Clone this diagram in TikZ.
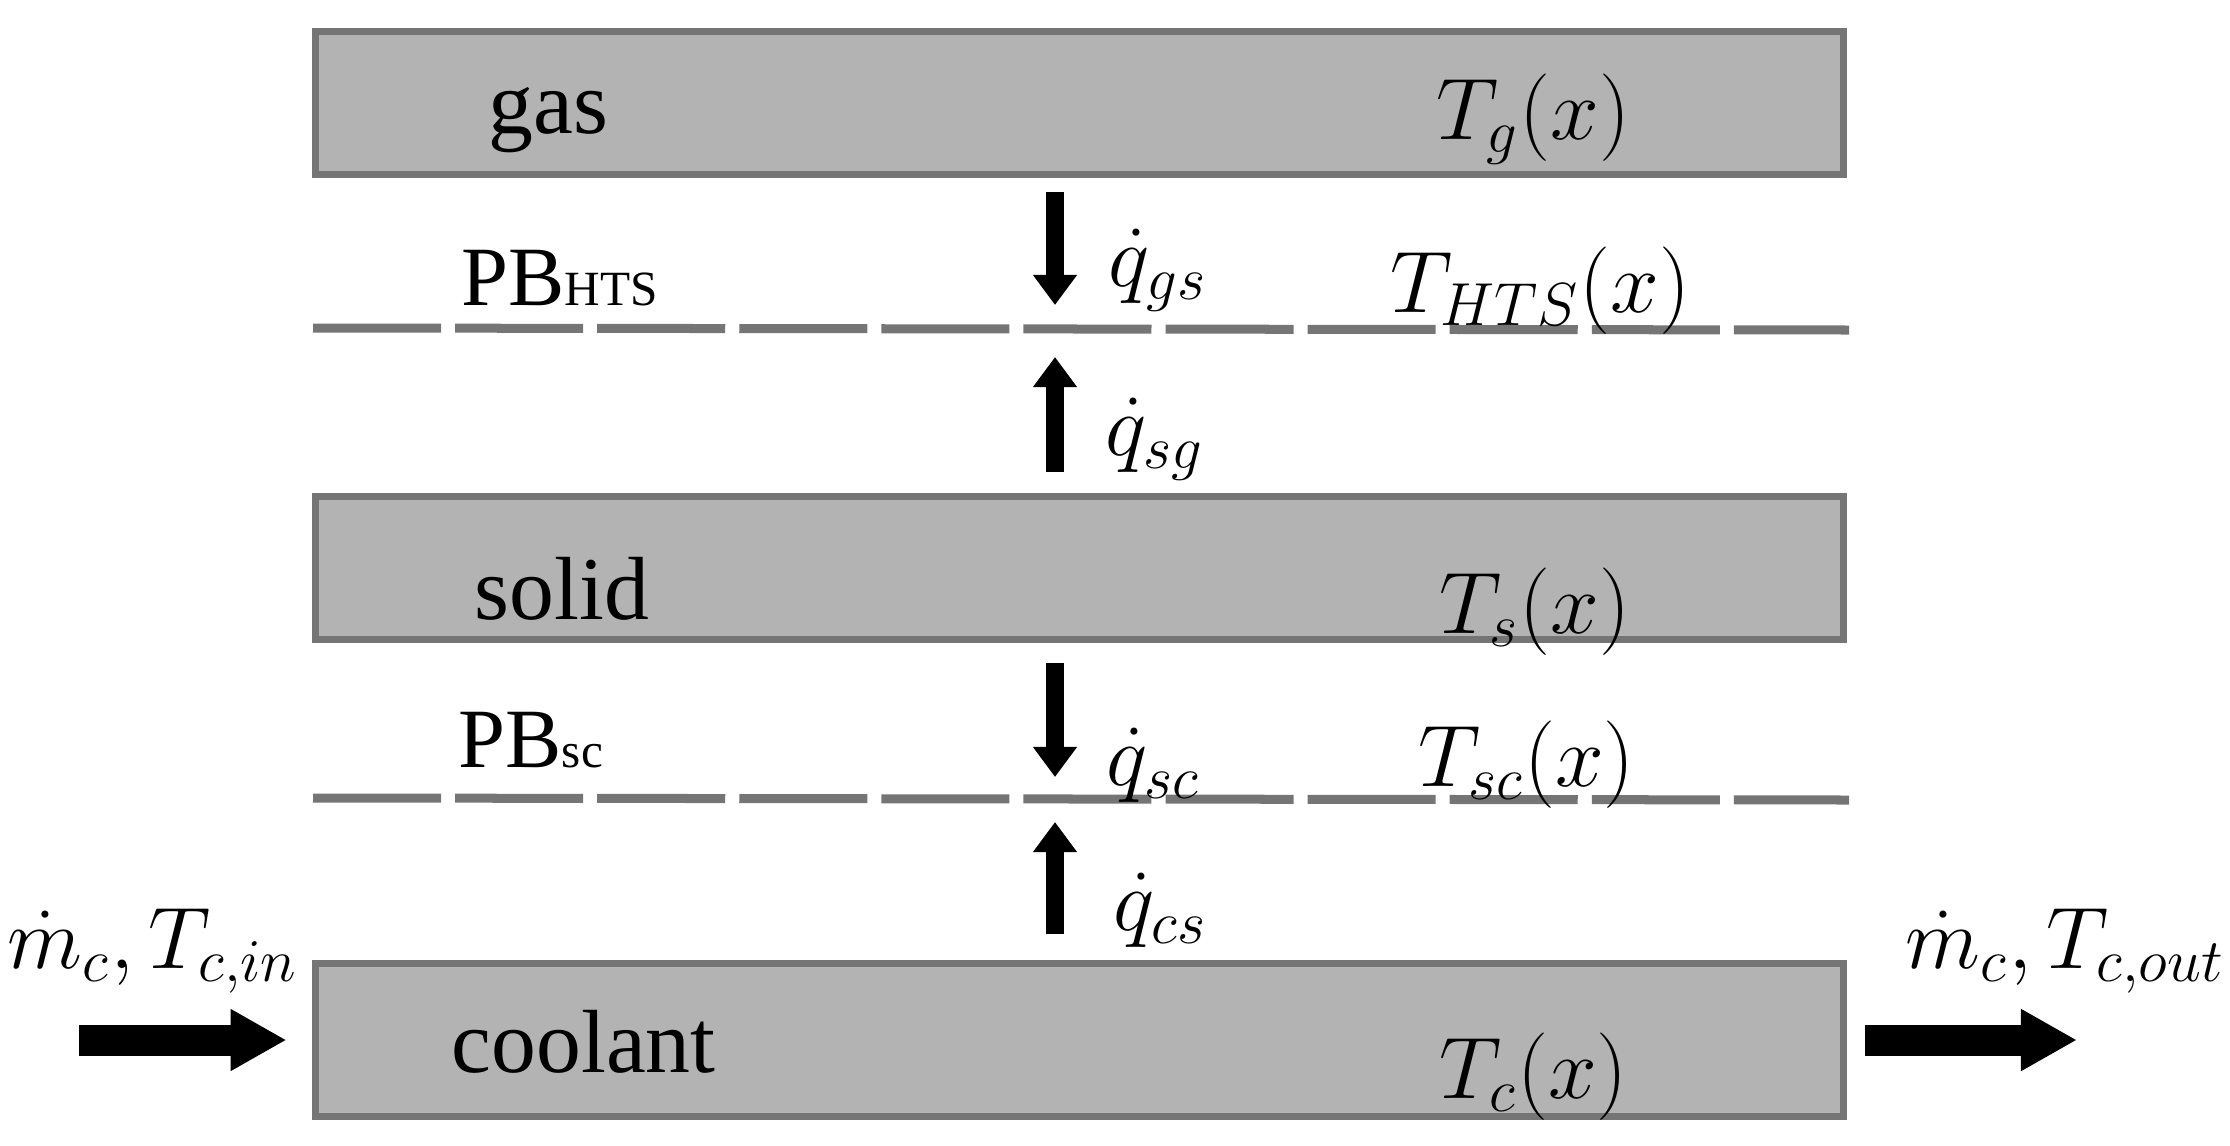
\documentclass[tikz,border=0pt]{standalone}
\usepackage{fontspec}
\setmainfont{Liberation Serif}
\usetikzlibrary{arrows.meta}
\definecolor{layerfill}{HTML}{B3B3B3}
\definecolor{layerdraw}{HTML}{757575}
\tikzstyle{layer}=[
    draw = layerdraw,
    fill = layerfill,
    line width = 0.07cm,
    rectangle,
    minimum width = 15.28cm,
    inner sep = 0pt
]
\newcommand{\bigtxt}{\fontsize{25.5}{30}\selectfont}
\newcommand{\mathtxt}{\fontsize{23}{27}\selectfont}
\newcommand{\smalltxt}{\fontsize{14}{16}\selectfont}

\begin{document}
\begin{tikzpicture}[x=0.01cm, y=-0.01cm,
    lbl/.style = {anchor=base west, inner sep=0pt},
    heat/.style = {line width=0.18cm, -{Triangle[width=0.42cm,length=0.30cm]}},
    flow/.style = {line width=0.31cm, -{Triangle[width=0.58cm,length=0.56cm]}},
    boundary/.style = {draw=layerdraw, line width=0.09cm, dash pattern=on 1.28cm off 0.14cm}]
        \useasboundingbox (0,0) rectangle (2230,1145);

        % layers
        \node[layer, minimum height=1.43cm] (gas) at (1079.5,103) {};
        \node[layer, minimum height=1.43cm] (solid) at (1079.5,568) {};
        \node[layer, minimum height=1.53cm] (cool) at (1079.5,1040) {};

        % boundaries
        \coordinate (hts-l) at (313,328);
        \coordinate (hts-r) at (1849,330);
        \coordinate (sc-l) at (313,798);
        \coordinate (sc-r) at (1849,800);
        \draw[boundary] (hts-l) -- (hts-r);
        \draw[boundary] (sc-l) -- (sc-r);

        % labels
        \node[lbl] (gas-name) at (488,133) {\bigtxt gas};
        \node[lbl] (gas-temp) at (1436,139) {\mathtxt $T_g(x)$};
        \node[lbl] (hts-name) at (461,305) {\fontsize{24}{28}\selectfont PB{\smalltxt HTS}};
        \node[lbl] (qgs) at (1108,286) {\mathtxt $\dot q_{gs}$};
        \node[lbl] (hts-temp) at (1390,312) {\mathtxt $T_{HTS}(x)$};
        \node[lbl] (qsg) at (1105,455) {\mathtxt $\dot q_{sg}$};
        \node[lbl] (solid-name) at (474,619) {\bigtxt solid};
        \node[lbl] (solid-temp) at (1439,633) {\mathtxt $T_s(x)$};
        \node[lbl] (sc-name) at (458,767) {\fontsize{24}{28}\selectfont PB{\smalltxt sc}};
        \node[lbl] (qsc) at (1106,785) {\mathtxt $\dot q_{sc}$};
        \node[lbl] (sc-temp) at (1418,786) {\mathtxt $T_{sc}(x)$};
        \node[lbl] (qcs) at (1113,930) {\mathtxt $\dot q_{cs}$};
        \node[lbl] (cool-name) at (451,1072) {\bigtxt coolant};
        \node[lbl] (cool-temp) at (1439,1098) {\mathtxt $T_c(x)$};
        \node[lbl] (inlet) at (7,968) {\mathtxt $\dot m_c, T_{c,in}$};
        \node[lbl] (outlet) at (1905,968) {\mathtxt $\dot m_c, T_{c,out}$};

        % heat fluxes
        \coordinate (gs-a) at (1055,192);
        \coordinate (gs-b) at (1055,305);
        \coordinate (sg-a) at (1055,472);
        \coordinate (sg-b) at (1055,357);
        \coordinate (sc-a) at (1055,663);
        \coordinate (sc-b) at (1055,777);
        \coordinate (cs-a) at (1055,934);
        \coordinate (cs-b) at (1055,822);
        \draw[heat] (gs-a) -- (gs-b);
        \draw[heat] (sg-a) -- (sg-b);
        \draw[heat] (sc-a) -- (sc-b);
        \draw[heat] (cs-a) -- (cs-b);

        % coolant flow
        \coordinate (in-tail) at (79,1040);
        \coordinate (out-tip) at (2077,1040);
        \draw[flow] (in-tail) -- ([xshift=-0.25cm]cool.west);
        \draw[flow] ([xshift=0.18cm]cool.east) -- (out-tip);

    \end{tikzpicture}
\end{document}
